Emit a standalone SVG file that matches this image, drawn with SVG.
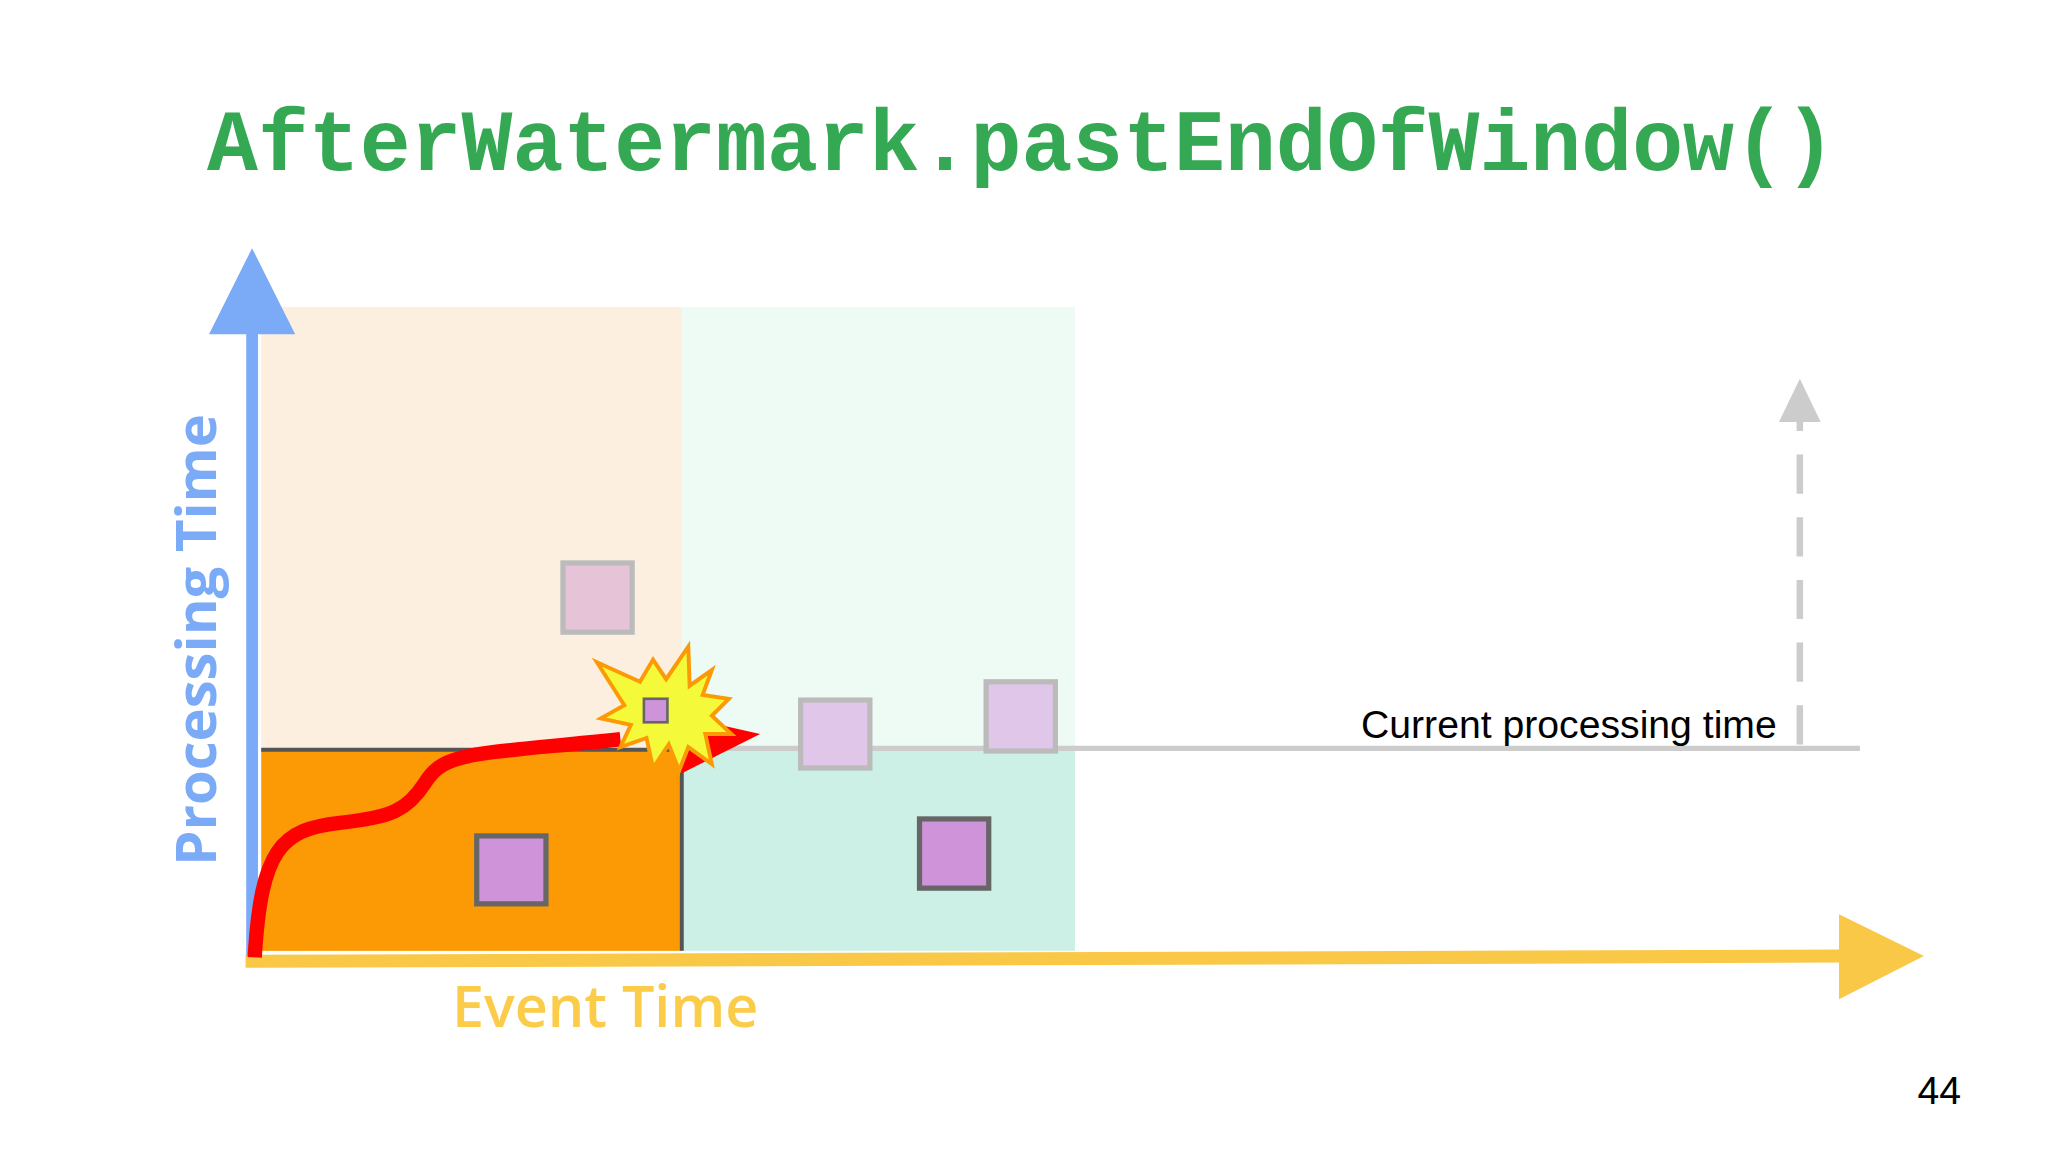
<svg xmlns="http://www.w3.org/2000/svg" width="2048" height="1152" viewBox="0 0 2048 1152">
<style>
.sq1{stroke:#666;stroke-width:4;fill:#ce93d8}
.sq2{stroke:#bbb;stroke-width:4;fill:#e0c6e8}
.lbl{font-family:"Liberation Sans",Arial,sans-serif;font-size:30px;fill:#000}
</style>
<rect width="2048" height="1152" fill="#fff"/>
<g transform="scale(1.30612)">
<g id="title"><text x="782" y="130" text-anchor="middle" font-family="Liberation Mono,monospace" font-weight="bold" font-size="66" textLength="1247" lengthAdjust="spacingAndGlyphs" fill="#34a853">AfterWatermark.pastEndOfWindow()</text></g>
<g id="windows">
<rect x="200" y="235" width="322" height="338" fill="#fdefe0"/>
<rect x="522" y="235" width="301" height="338" fill="#eefaf4"/>
<rect x="200" y="573" width="322" height="155" fill="#fb9a05"/>
<rect x="522" y="573" width="301" height="155" fill="#ccf0e6"/>
</g>
<g id="connectors">
<line x1="522" y1="573" x2="1424" y2="573" stroke="#ccc" stroke-width="4"/>
<line x1="200" y1="574" x2="522" y2="574" stroke="#555" stroke-width="3"/>
<line x1="522" y1="574" x2="522" y2="728" stroke="#555" stroke-width="3"/>
<line x1="193" y1="740" x2="193" y2="250" stroke="#7baaf7" stroke-width="9"/>
<polygon points="160,256 226,256 193,190" fill="#7baaf7"/>
<line x1="188" y1="736" x2="1412" y2="732" stroke="#f9c846" stroke-width="10"/>
<polygon points="1408,700 1473,732 1408,765" fill="#f9c846"/>
<line x1="1378" y1="570" x2="1378" y2="320" stroke="#ccc" stroke-width="5" stroke-dasharray="30,18"/>
<polygon points="1362,323 1394,323 1378,290" fill="#ccc"/>
<path d="M195,733 C200,650 215,635 260,630 C300,626 312,620 325,600 C340,575 360,578 475,566" fill="none" stroke="#f00" stroke-width="11"/>
<polygon points="520,548 582,562 522,592" fill="#f00"/>
</g>
<g id="burst">
<polygon points="527,495 528,525 545,513 538,532 558,535 545,548 560,562 540,562 545,585 527,572 520,590 512,570 500,588 495,565 475,572 483,555 460,550 478,540 457,507 490,522 500,505 510,520" fill="#f4f93a" stroke="#fb9a05" stroke-width="3"/>
<rect x="493" y="535" width="18" height="18" fill="#ce93d8" stroke="#666" stroke-width="2"/>
</g>
<g id="sq-a"><rect x="431" y="431" width="53" height="53" fill="#e6c3d6" stroke="#bbb" stroke-width="4"/></g>
<g id="sq-b"><rect class="sq2" x="613" y="536" width="53" height="52"/></g>
<g id="sq-c"><rect class="sq2" x="755" y="522" width="53" height="53"/></g>
<g id="sq-d"><rect class="sq1" x="365" y="640" width="53" height="52"/></g>
<g id="sq-e"><rect class="sq1" x="704" y="627" width="53" height="53"/></g>
<g id="labels">
<text class="lbl" x="1042" y="565">Current processing time</text>
<text class="lbl" x="1468" y="845">44</text>
<text x="346" y="786" font-family="Open Sans,sans-serif" font-weight="600" font-size="44" fill="#fbcc4a">Event Time</text>
<text transform="translate(165,490) rotate(-90)" text-anchor="middle" font-family="Open Sans,sans-serif" font-weight="bold" font-size="43" fill="#7baaf7">Processing Time</text>
</g>
</g>
</svg>
